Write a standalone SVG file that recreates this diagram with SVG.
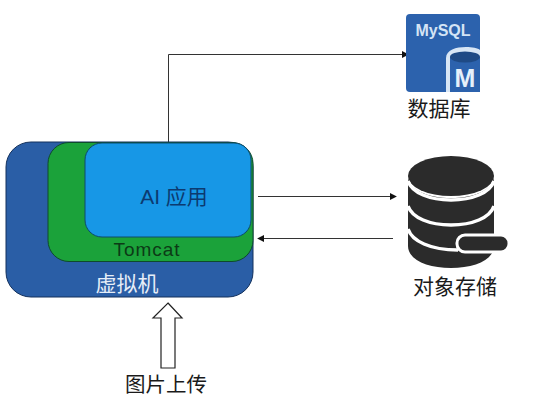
<svg xmlns="http://www.w3.org/2000/svg" width="535" height="403" viewBox="0 0 535 403">
<style>
.cn{font-family:"Liberation Sans","Noto Sans CJK SC",sans-serif}
.lbl{fill:#1a1a1a}
.conn{fill:none;stroke:#333;stroke-width:1}
</style>
<defs>
<marker id="ah" viewBox="0 0 8 8" refX="7" refY="4" markerWidth="7" markerHeight="7" markerUnits="userSpaceOnUse" orient="auto"><path d="M0 0L8 4L0 8Z" fill="#111"/></marker>
</defs>
<rect width="535" height="403" fill="#fff"/>
<g id="connectors">
<path class="conn" d="M168.500 142V54.500H408" marker-end="url(#ah)"/>
<path class="conn" d="M258 196.500H396" marker-end="url(#ah)"/>
<path class="conn" d="M393 238.500H258" marker-end="url(#ah)"/>
</g>
<g id="vm">
<rect x="6" y="142" width="247" height="155" rx="25" fill="#2a5ea6" stroke="#12305c" stroke-width="1"/>
<text class="cn" x="127" y="291" font-size="21" fill="#e6eef8" text-anchor="middle">虚拟机</text>
</g>
<g id="tomcat">
<rect x="48" y="142.500" width="205" height="119" rx="21" fill="#1ba23a" stroke="#0e4a2c" stroke-width="1"/>
<text class="cn" x="147" y="256" font-size="19" letter-spacing="1" fill="#0c3a16" text-anchor="middle">Tomcat</text>
</g>
<g id="ai-app">
<rect x="85" y="143" width="166" height="94" rx="17" fill="#1797e6" stroke="#0e4a6c" stroke-width="1"/>
<text class="cn" x="174" y="204" font-size="21" fill="#0c3a70" text-anchor="middle">AI 应用</text>
</g>
<g id="mysql">
<rect x="406" y="14" width="74" height="78" rx="4" fill="#2c62ad"/>
<text class="cn" x="443" y="36" font-size="16" font-weight="bold" fill="#d4e4f5" text-anchor="middle">MySQL</text>
<path d="M446 92V58C446 50 456 47 466 47C472 47 478 48 480 50V92Z" fill="#d8e6f5"/>
<path d="M450 92V57H480V92Z" fill="#2c62ad"/>
<ellipse cx="465" cy="57" rx="15" ry="5.500" fill="#1f4a85"/>
<text class="cn" x="465" y="87" font-size="25" font-weight="bold" fill="#e6f0fa" text-anchor="middle">M</text>
<text class="cn lbl" x="439" y="116" font-size="21" text-anchor="middle">数据库</text>
</g>
<g id="storage">
<ellipse cx="451" cy="176" rx="43" ry="20" fill="#2b2b2b"/>
<path d="M408 176V246C408 260 428 268 451 268C474 268 494 260 494 246V176C494 190 474 198 451 198C428 198 408 190 408 176Z" fill="#2b2b2b"/>
<path d="M408 181C412 193 430 200 451 200C472 200 490 193 494 181M408 206C412 218 430 225 451 225C472 225 490 218 494 206M408 229C412 241 430 250 458 250" fill="none" stroke="#fff" stroke-width="3.500"/>
<rect x="457" y="235" width="52" height="17" rx="8" fill="#2b2b2b" stroke="#fff" stroke-width="3"/>
<text class="cn lbl" x="455" y="294" font-size="21" text-anchor="middle">对象存储</text>
</g>
<g id="upload">
<path d="M168 303L182 318H175V368H161V318H153Z" fill="#fff" stroke="#222" stroke-width="1.200"/>
<text class="cn lbl" x="166" y="392" font-size="20.500" text-anchor="middle">图片上传</text>
</g>
</svg>
